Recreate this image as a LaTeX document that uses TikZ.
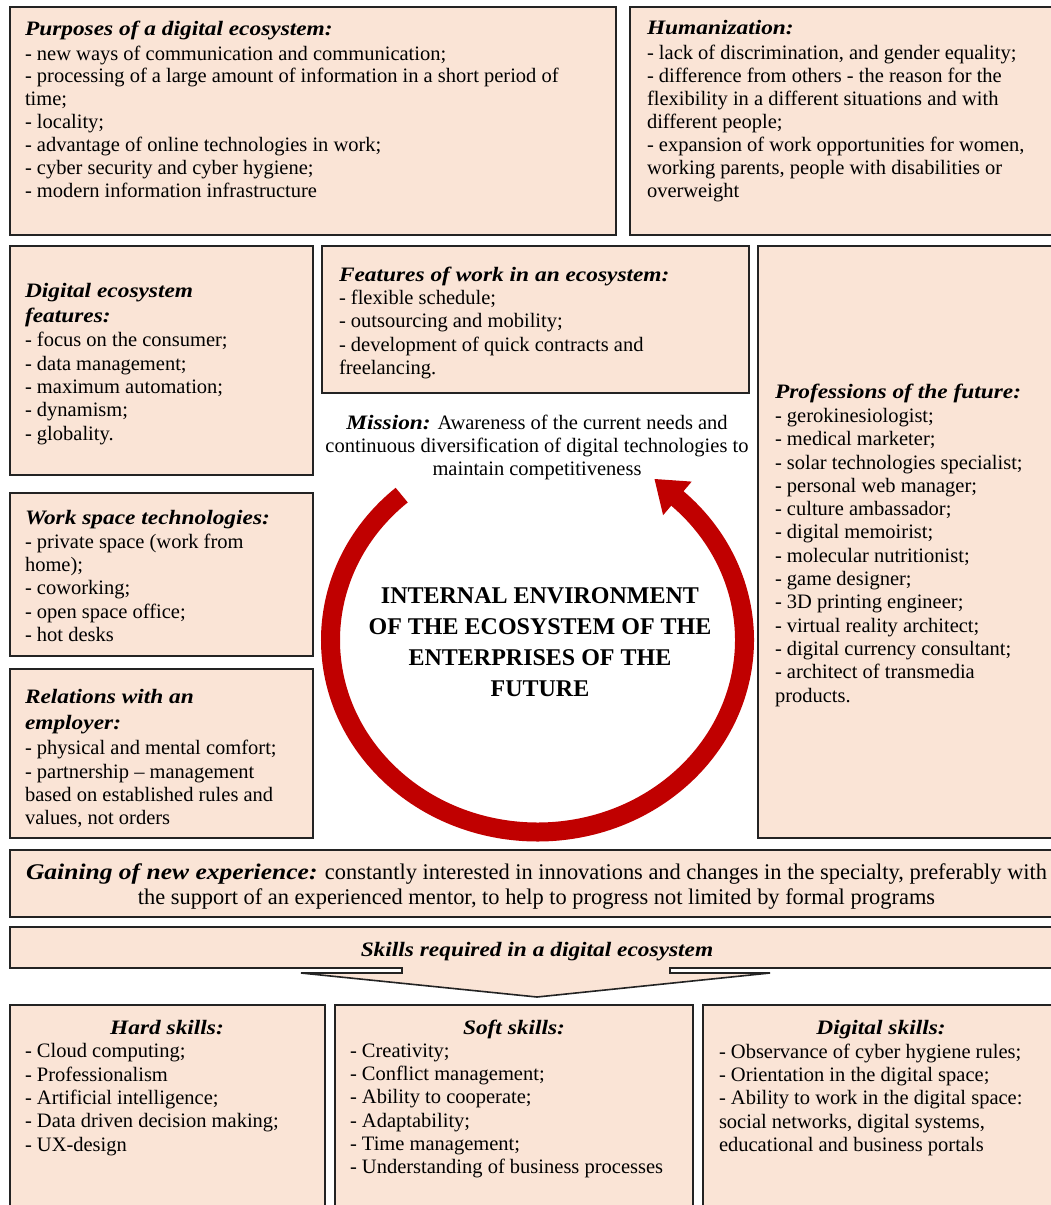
\documentclass[tikz,border=0pt]{standalone}
\usepackage{fontspec}
\setmainfont{Liberation Serif}[BoldItalicFeatures={FakeStretch=1.14}]
\definecolor{boxfill}{RGB}{250,228,214}
\definecolor{arrowred}{RGB}{192,0,0}
\definecolor{edgecol}{RGB}{35,35,35}
\newcommand\hd[1]{\textbf{\textit{#1}}}
\newcommand\bodystrut{\rule{0pt}{16.31pt}}
\newcommand\gainstrut{\rule{0pt}{17.5pt}}
\newcommand\titlestrut{\rule{0pt}{21.7pt}}
\tikzset{
  panel/.style={draw=edgecol, fill=boxfill, line width=1.6pt, anchor=north west, inner sep=0pt, outer sep=0pt},
  txt/.style={anchor=north west, yshift=16.31pt, inner sep=0pt, outer sep=0pt, align=left,
    font=\fontsize{20.5}{23.3}\selectfont, execute at begin node=\bodystrut},
  ctxt/.style={anchor=north, yshift=16.31pt, inner sep=0pt, outer sep=0pt, align=center,
    font=\fontsize{20.5}{23.3}\selectfont, execute at begin node=\bodystrut},
  gtxt/.style={anchor=north, yshift=17.5pt, inner sep=0pt, outer sep=0pt, align=center,
    font=\fontsize{22.4}{25}\selectfont, execute at begin node=\gainstrut},
  titletxt/.style={anchor=north, yshift=21.7pt, inner sep=0pt, outer sep=0pt, align=center,
    font=\fontsize{24}{31}\selectfont\bfseries, execute at begin node=\titlestrut},
  ring/.style={draw=arrowred, line width=19pt},
}
\begin{document}
\begin{tikzpicture}[x=1pt,y=1pt]
\useasboundingbox (0,0) rectangle (1050,-1205);
\fill[white] (0,0) rectangle (1050,-1205);

% panels
\node[panel, minimum width=606pt, minimum height=228pt] (purpbox) at (10,-7) {};
\node[panel, minimum width=424pt, minimum height=228pt] (humbox) at (630,-7) {};
\node[panel, minimum width=303pt, minimum height=229pt] (defbox) at (10,-246) {};
\node[panel, minimum width=427pt, minimum height=147pt] (workbox) at (322,-246) {};
\node[panel, minimum width=296pt, minimum height=592pt] (profbox) at (758,-246) {};
\node[panel, minimum width=303pt, minimum height=163pt] (spacebox) at (10,-493) {};
\node[panel, minimum width=303pt, minimum height=169pt] (relbox) at (10,-669) {};
\node[panel, minimum width=1044pt, minimum height=67pt] (gainbox) at (10,-850) {};
\node[panel, minimum width=315pt, minimum height=210pt] (hardbox) at (10,-1005) {};
\node[panel, minimum width=358pt, minimum height=210pt] (softbox) at (335,-1005) {};
\node[panel, minimum width=351pt, minimum height=210pt] (digbox) at (703,-1005) {};

% skills banner with down arrow
\draw[draw=edgecol, fill=boxfill, line width=1.6pt, line join=miter]
  (10,-927) -- (1054,-927) -- (1054,-968) -- (670,-968) -- (670,-973) -- (770,-973)
  -- (537,-997) -- (301,-973) -- (402,-973) -- (402,-968) -- (10,-968) -- cycle;
\node[ctxt] (skillstxt) at (537,-956) {\hd{Skills required in a digital ecosystem}};

% circular arrow
\coordinate (ringc) at (537.5,-640);
\draw[ring] (ringc) ++(131:207 and 192) arc[start angle=131, end angle=409, x radius=207, y radius=192];
\fill[arrowred] (654.5,-479) -- (691.7,-481.6) -- (663.1,-515.2) -- cycle;

% texts
\node[txt, font=\fontsize{20.5}{22.9}\selectfont] (purptxt) at (25,-37) {\hd{Purposes of a digital ecosystem:}\\[2pt]
- new ways of communication and communication;\\
- processing of a large amount of information in a short period of\\
time;\\
- locality;\\
- advantage of online technologies in work;\\
- cyber security and cyber hygiene;\\
- modern information infrastructure};

\node[txt, font=\fontsize{20.5}{22.9}\selectfont] (humtxt) at (647,-37) {\hd{Humanization:}\\[2pt]
- lack of discrimination, and gender equality;\\
- difference from others - the reason for the\\
flexibility in a different situations and with\\
different people;\\
- expansion of work opportunities for women,\\
working parents, people with disabilities or\\
overweight};

\node[txt] (deftxt) at (25,-300) {\hd{Digital ecosystem}\\[1.2pt]
\hd{features:}\\[1.2pt]
- focus on the consumer;\\
- data management;\\
- maximum automation;\\
- dynamism;\\
- globality.};

\node[txt] (worktxt) at (339,-283) {\hd{Features of work in an ecosystem:}\\
- flexible schedule;\\
- outsourcing and mobility;\\
- development of quick contracts and\\
freelancing.};

\node[ctxt] (mission) at (537,-431) {\hd{Mission:} Awareness of the current needs and\\
continuous diversification of digital technologies to\\
maintain competitiveness};

\node[titletxt] (title) at (540,-609.5) {INTERNAL ENVIRONMENT\\
OF THE ECOSYSTEM OF THE\\
ENTERPRISES OF THE\\
FUTURE};

\node[txt] (proftxt) at (775,-400) {\hd{Professions of the future:}\\[1pt]
- gerokinesiologist;\\
- medical marketer;\\
- solar technologies specialist;\\
- personal web manager;\\
- culture ambassador;\\
- digital memoirist;\\
- molecular nutritionist;\\
- game designer;\\
- 3D printing engineer;\\
- virtual reality architect;\\
- digital currency consultant;\\
- architect of transmedia\\
products.};

\node[txt] (spacetxt) at (25,-527) {\hd{Work space technologies:}\\
- private space (work from\\
home);\\
- coworking;\\
- open space office;\\
- hot desks};

\node[txt] (reltxt) at (25,-706) {\hd{Relations with an}\\[2.2pt]
\hd{employer:}\\[2.2pt]
- physical and mental comfort;\\
- partnership – management\\
based on established rules and\\
values, not orders};

\node[gtxt] (gaintxt) at (536.5,-881.5) {\hd{Gaining of new experience:} constantly interested in innovations and changes in the specialty, preferably with\\
the support of an experienced mentor, to help to progress not limited by formal programs};

\node[ctxt] (hardhd) at (167,-1034) {\hd{Hard skills:}};
\node[txt] (hardtxt) at (25,-1060) {- Cloud computing;\\
- Professionalism\\
- Artificial intelligence;\\
- Data driven decision making;\\
- UX-design};

\node[ctxt] (softhd) at (514,-1034) {\hd{Soft skills:}};
\node[txt] (softtxt) at (350,-1060) {- Creativity;\\
- Conflict management;\\
- Ability to cooperate;\\
- Adaptability;\\
- Time management;\\
- Understanding of business processes};

\node[ctxt] (dighd) at (881,-1034) {\hd{Digital skills:}};
\node[txt] (digtxt) at (719,-1060) {- Observance of cyber hygiene rules;\\
- Orientation in the digital space;\\
- Ability to work in the digital space:\\
social networks, digital systems,\\
educational and business portals};
\end{tikzpicture}
\end{document}
